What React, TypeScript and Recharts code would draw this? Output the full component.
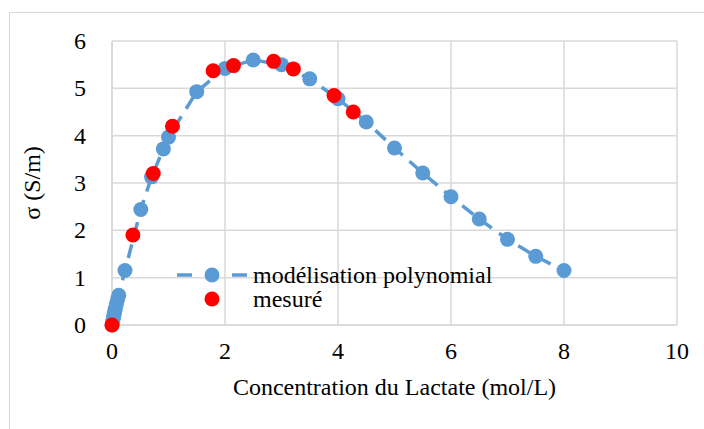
import { ScatterChart, Scatter, XAxis, YAxis, CartesianGrid } from "recharts"

// modélisation polynomiale (courbe bleue)
const modelX = [0, 0.01, 0.02, 0.03, 0.04, 0.05, 0.06, 0.08, 0.1, 0.12, 0.23, 0.51, 0.7, 0.91, 1.0, 1.5, 2.0, 2.5, 3.0, 3.5, 4.0, 4.5, 5.0, 5.5, 6.0, 6.5, 7.0, 7.5, 8.0]
const modelY = [0, 0.06, 0.12, 0.18, 0.24, 0.3, 0.35, 0.45, 0.55, 0.63, 1.15, 2.44, 3.13, 3.72, 3.97, 4.93, 5.42, 5.6, 5.5, 5.2, 4.78, 4.29, 3.74, 3.21, 2.71, 2.24, 1.81, 1.45, 1.15]

// points mesurés (rouge)
const measX = [0, 0.37, 0.73, 1.07, 1.79, 2.15, 2.86, 3.21, 3.93, 4.27]
const measY = [0, 1.9, 3.2, 4.2, 5.37, 5.48, 5.57, 5.41, 4.85, 4.5]

const xTicks = [0, 2, 4, 6, 8, 10]
const yTicks = [0, 1, 2, 3, 4, 5, 6]

const modelData = modelX.map((x, i) => ({ x, y: modelY[i] }))
const measData = measX.map((x, i) => ({ x, y: measY[i] }))

const BLUE = "#5B9BD5"
const RED = "#FF0000"
const GRID = "#D9D9D9"
const FONT = "'Liberation Serif', 'Times New Roman', serif"
const FS = 24

// ticks drawn by hand so the serif font is kept
const XTick = (p: any) => (
  <text x={p.x} y={p.y} dy={18} textAnchor="middle" fill="#000" fontSize={FS} fontFamily={FONT}>
    {p.payload.value}
  </text>
)
const YTick = (p: any) => (
  <text x={p.x} y={p.y} dy={8} textAnchor="end" fill="#000" fontSize={FS} fontFamily={FONT}>
    {p.payload.value}
  </text>
)

function LegendBox() {
  return (
    <div style={{ position: "absolute", left: 174, top: 263, fontFamily: FONT, fontSize: FS, color: "#000", lineHeight: "24px" }}>
      <div style={{ display: "flex", alignItems: "center", height: 24 }}>
        <svg width={79} height={24}>
          <line x1={3} y1={12} x2={73} y2={12} stroke={BLUE} strokeWidth={3.5} strokeDasharray="15 13 14 13 15" />
          <circle cx={38} cy={12} r={7.5} fill={BLUE} />
        </svg>
        <span>modélisation polynomial</span>
      </div>
      <div style={{ display: "flex", alignItems: "center", height: 24 }}>
        <svg width={79} height={24}>
          <circle cx={38} cy={12} r={7.5} fill={RED} />
        </svg>
        <span>mesuré</span>
      </div>
    </div>
  )
}

export default function App() {
  return (
    <div style={{ position: "absolute", left: 0, top: 0, width: 704, height: 429, background: "#fff", fontFamily: FONT }}>
      <div
        style={{
          position: "absolute",
          left: 9,
          top: 12,
          width: 720,
          height: 440,
          border: `1.5px solid ${GRID}`,
          boxSizing: "border-box",
        }}
      />
      <ScatterChart width={704} height={429} margin={{ top: 41, right: 27, bottom: 28, left: 0 }}>
        <CartesianGrid stroke={GRID} strokeWidth={1.5} horizontal vertical />
        <XAxis
          type="number"
          dataKey="x"
          domain={[0, 10]}
          ticks={xTicks}
          interval={0}
          height={76}
          tickLine={false}
          axisLine={{ stroke: GRID, strokeWidth: 1.5 }}
          tick={XTick}
          tickMargin={10}
          label={{ value: "Concentration du Lactate (mol/L)", position: "insideBottom", offset: 6, fill: "#000", fontSize: FS, fontFamily: FONT }}
        />
        <YAxis
          type="number"
          dataKey="y"
          domain={[0, 6]}
          ticks={yTicks}
          interval={0}
          width={112}
          tickLine={false}
          axisLine={{ stroke: GRID, strokeWidth: 1.5 }}
          tick={YTick}
          tickMargin={20}
          label={{ value: "σ (S/m)", angle: -90, position: "insideLeft", offset: 31, fill: "#000", fontSize: FS, fontFamily: FONT, style: { textAnchor: "middle" } }}
        />
        <Scatter
          name="modélisation polynomial"
          data={modelData}
          fill={BLUE}
          line={{ stroke: BLUE, strokeWidth: 3.5, strokeDasharray: "14 9" }}
          lineType="joint"
          shape={(p: any) => <circle cx={p.cx} cy={p.cy} r={7.5} fill={BLUE} />}
          isAnimationActive={false}
        />
        <Scatter
          name="mesuré"
          data={measData}
          fill={RED}
          shape={(p: any) => <circle cx={p.cx} cy={p.cy} r={7.5} fill={RED} />}
          isAnimationActive={false}
        />
      </ScatterChart>
      <LegendBox />
    </div>
  )
}
